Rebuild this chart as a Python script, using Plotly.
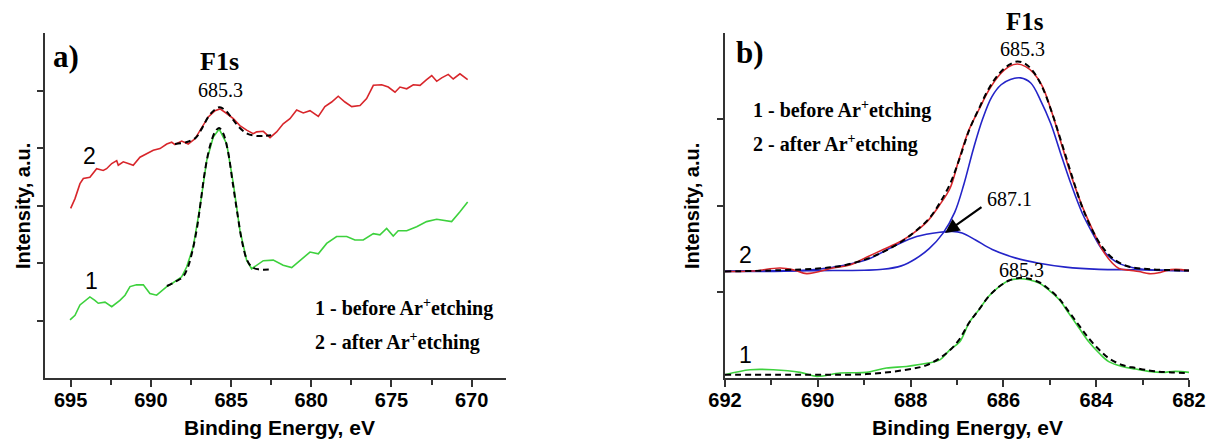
import plotly.graph_objects as go

W, H = 1209, 439

# ---------------- Panel a) data ----------------
a_red_x = [695.0, 694.73, 694.42, 694.21, 693.80, 693.38, 692.97, 692.76, 692.44, 692.13, 692.03,
           691.72, 691.41, 691.10, 690.68, 690.26, 689.85, 689.43, 689.01, 688.70, 688.50, 688.08,
           687.67, 687.25, 686.83, 686.42, 686.00, 685.69, 685.27, 684.86, 684.45, 684.03, 683.62,
           683.40, 682.99, 682.57, 682.16, 681.75, 681.33, 680.91, 680.50, 680.08, 679.56, 679.15,
           678.73, 678.32, 677.90, 677.48, 676.96, 676.55, 676.13, 675.61, 675.20, 674.78, 674.47,
           674.05, 673.64, 673.22, 672.81, 672.49, 672.18, 671.87, 671.46, 671.15, 670.73, 670.52,
           670.25]
a_red_y = [2.95, 3.12, 3.38, 3.47, 3.49, 3.64, 3.61, 3.64, 3.73, 3.78, 3.70,
           3.76, 3.73, 3.70, 3.84, 3.90, 3.96, 3.99, 4.07, 4.10, 4.06, 4.12,
           4.07, 4.16, 4.36, 4.54, 4.65, 4.68, 4.60, 4.51, 4.39, 4.31, 4.25,
           4.28, 4.29, 4.18, 4.28, 4.42, 4.51, 4.66, 4.61, 4.65, 4.55, 4.72,
           4.80, 4.90, 4.80, 4.72, 4.74, 4.86, 5.09, 5.10, 5.06, 4.97, 5.06,
           5.03, 5.10, 5.09, 5.19, 5.26, 5.16, 5.22, 5.28, 5.20, 5.29, 5.24,
           5.19]

a_green_x = [695.04, 694.73, 694.42, 694.05, 693.80, 693.49, 693.28, 692.86, 692.44, 691.93, 691.61,
             691.30, 690.89, 690.47, 690.06, 689.64, 689.23, 689.01, 688.70, 688.39, 688.08, 687.77,
             687.36, 686.94, 686.52, 686.11, 685.74, 685.27, 684.86, 684.45, 684.03, 683.72, 683.40,
             682.99, 682.37, 681.75, 681.22, 680.70, 680.08, 679.56, 679.04, 678.42, 677.79, 677.28,
             676.76, 676.13, 675.72, 675.30, 674.89, 674.58, 674.05, 673.43, 672.81, 672.18, 671.77,
             671.25, 670.73, 670.25]
a_green_y = [1.01, 1.09, 1.27, 1.35, 1.41, 1.35, 1.30, 1.32, 1.24, 1.35, 1.44,
             1.59, 1.62, 1.62, 1.47, 1.44, 1.53, 1.59, 1.64, 1.70, 1.76, 1.93,
             2.28, 2.97, 3.78, 4.19, 4.33, 4.07, 3.38, 2.57, 2.05, 1.90, 1.96,
             2.04, 2.05, 1.96, 1.92, 2.05, 2.19, 2.16, 2.34, 2.46, 2.46, 2.40,
             2.40, 2.51, 2.49, 2.60, 2.47, 2.56, 2.56, 2.63, 2.72, 2.76, 2.74,
             2.72, 2.89, 3.06]

a_fit2_x = [688.5, 687.8, 687.2, 686.8, 686.4, 686.0, 685.7, 685.3, 684.9, 684.5, 684.0, 683.4, 682.5]
a_fit2_y = [4.07, 4.10, 4.18, 4.35, 4.55, 4.67, 4.71, 4.64, 4.50, 4.36, 4.25, 4.21, 4.22]

a_fit1_x = [689.0, 688.5, 688.0, 687.7, 687.4, 687.1, 686.9, 686.6, 686.3, 686.0, 685.75, 685.5,
            685.2, 684.9, 684.6, 684.3, 684.0, 683.7, 683.3, 682.4]
a_fit1_y = [1.60, 1.67, 1.76, 1.92, 2.22, 2.65, 3.05, 3.65, 4.05, 4.28, 4.35, 4.26,
            3.95, 3.40, 2.85, 2.35, 2.05, 1.93, 1.89, 1.89]

# ---------------- Panel b) data ----------------
b_red_x = [692.0, 691.4, 690.81, 690.5, 690.24, 689.67, 689.31, 688.95, 688.59, 688.23, 687.94, 687.65,
           687.37, 687.15, 686.96, 686.74, 686.53, 686.31, 686.09, 685.88, 685.70, 685.52, 685.34,
           685.16, 684.95, 684.73, 684.51, 684.30, 684.08, 683.87, 683.65, 683.51, 683.29, 683.08,
           682.86, 682.65, 682.50, 682.29, 682.0]
b_red_y = [1.235, 1.24, 1.275, 1.25, 1.21, 1.275, 1.31, 1.40, 1.49, 1.58, 1.68, 1.81,
           2.01, 2.20, 2.53, 2.88, 3.11, 3.34, 3.51, 3.61, 3.64, 3.61, 3.53,
           3.38, 3.07, 2.68, 2.30, 1.99, 1.72, 1.49, 1.33, 1.27, 1.25, 1.235,
           1.21, 1.22, 1.245, 1.26, 1.245]

b_blue1_x = [692.0, 690.0, 689.0, 688.6, 688.2, 687.9, 687.6, 687.3, 687.05, 686.85, 686.65,
             686.45, 686.25, 686.05, 685.85, 685.63, 685.41, 685.20, 684.98, 684.77, 684.55,
             684.30, 684.08, 683.87, 683.58, 683.29, 682.86, 682.0]
b_blue1_y = [1.24, 1.245, 1.25, 1.26, 1.30, 1.38, 1.50, 1.68, 1.92, 2.25, 2.65,
             3.00, 3.26, 3.40, 3.46, 3.48, 3.42, 3.22, 2.95, 2.61, 2.26,
             1.91, 1.68, 1.49, 1.35, 1.29, 1.255, 1.245]

b_blue2_x = [692.0, 690.38, 689.67, 688.95, 688.37, 687.87, 687.37, 687.1, 686.89, 686.60, 686.24,
             685.73, 685.23, 684.66, 683.94, 683.22, 682.0]
b_blue2_y = [1.235, 1.245, 1.285, 1.37, 1.525, 1.64, 1.69, 1.70, 1.68, 1.60, 1.49,
             1.39, 1.33, 1.285, 1.26, 1.255, 1.245]

b_fit2_x = [692.0, 690.8, 690.0, 689.5, 689.0, 688.6, 688.2, 687.9, 687.6, 687.37, 687.15, 686.96,
            686.74, 686.53, 686.31, 686.09, 685.88, 685.70, 685.52, 685.34, 685.16, 684.95, 684.73,
            684.51, 684.30, 684.08, 683.87, 683.65, 683.44, 683.2, 682.8, 682.0]
b_fit2_y = [1.235, 1.25, 1.27, 1.30, 1.37, 1.46, 1.58, 1.70, 1.85, 2.03, 2.25, 2.52,
            2.87, 3.12, 3.36, 3.53, 3.63, 3.67, 3.64, 3.54, 3.37, 3.07, 2.70,
            2.32, 1.98, 1.71, 1.52, 1.39, 1.32, 1.28, 1.26, 1.245]

b_green_x = [692.0, 691.46, 690.96, 690.38, 690.02, 689.52, 688.95, 688.52, 688.09, 687.65, 687.37,
             687.15, 686.94, 686.74, 686.53, 686.31, 686.09, 685.88, 685.66, 685.45, 685.23, 685.02,
             684.80, 684.59, 684.37, 684.16, 683.94, 683.73, 683.44, 683.15, 682.86, 682.58, 682.29,
             682.0]
b_green_y = [0.038, 0.096, 0.096, 0.065, 0.019, 0.058, 0.065, 0.116, 0.134, 0.17, 0.21,
             0.33, 0.42, 0.64, 0.79, 0.95, 1.06, 1.13, 1.15, 1.14, 1.10, 1.02,
             0.91, 0.75, 0.58, 0.42, 0.29, 0.19, 0.134, 0.104, 0.077, 0.065, 0.077,
             0.065]

b_fit1_x = [692.0, 690.0, 688.95, 688.09, 687.65, 687.22, 686.96, 686.74, 686.53, 686.31, 686.09,
            685.88, 685.66, 685.45, 685.23, 685.02, 684.80, 684.59, 684.37, 684.16, 683.94, 683.73,
            683.44, 683.15, 682.72, 682.0]
b_fit1_y = [0.038, 0.038, 0.045, 0.096, 0.15, 0.29, 0.44, 0.64, 0.79, 0.95, 1.06,
            1.13, 1.16, 1.15, 1.11, 1.03, 0.92, 0.77, 0.61, 0.46, 0.33, 0.23,
            0.15, 0.116, 0.077, 0.058]

a_xticks = [695, 690, 685, 680, 675, 670]
b_xticks = [692, 690, 688, 686, 684, 682]

# ---------------- colours / styles ----------------
RED = "#d8262b"
GREEN = "#3dd13d"
BLUE = "#2424c8"
AX = "#333333"
SERIF = "Liberation Serif"
SANS = "Liberation Sans"

fig = go.Figure()

def line(x, y, color, xa, ya, dash=None, width=1.6, shape="linear"):
    fig.add_trace(go.Scatter(x=x, y=y, mode="lines", xaxis=xa, yaxis=ya,
                             line=dict(color=color, width=width, dash=dash, shape=shape),
                             hoverinfo="skip", showlegend=False))

# panel a
line(a_red_x, a_red_y, RED, "x", "y")
line(a_green_x, a_green_y, GREEN, "x", "y")
line(a_fit2_x, a_fit2_y, "black", "x", "y", dash="6px,4px", width=2, shape="spline")
line(a_fit1_x, a_fit1_y, "black", "x", "y", dash="6px,4px", width=2, shape="spline")

# panel b
line(b_blue2_x, b_blue2_y, BLUE, "x2", "y2", shape="spline")
line(b_blue1_x, b_blue1_y, BLUE, "x2", "y2", shape="spline")
line(b_red_x, b_red_y, RED, "x2", "y2", shape="spline")
line(b_fit2_x, b_fit2_y, "black", "x2", "y2", dash="6px,4px", width=2, shape="spline")
line(b_green_x, b_green_y, GREEN, "x2", "y2", shape="spline")
line(b_fit1_x, b_fit1_y, "black", "x2", "y2", dash="6px,4px", width=2, shape="spline")

ydom = [1 - 378 / H, 1 - 33 / H]
tickfont = dict(family=SANS, size=20, color="black", weight="bold")

common_x = dict(showline=True, linecolor=AX, linewidth=2, ticks="outside", ticklen=7,
                tickwidth=2, tickcolor=AX, showgrid=False, zeroline=False,
                tickfont=tickfont, tickmode="array", automargin=False, ticklabelstandoff=-4,
                minor=dict(ticks="outside", ticklen=5, tickwidth=2, tickcolor=AX, showgrid=False))
common_y = dict(showline=True, linecolor=AX, linewidth=2, ticks="outside", ticklen=6,
                tickwidth=2, tickcolor=AX, showgrid=False, zeroline=False, automargin=False,
                showticklabels=False, tickmode="array")

fig.update_layout(
    width=W, height=H, autosize=False, margin=dict(l=0, r=0, t=0, b=0, pad=0),
    paper_bgcolor="white", plot_bgcolor="white", showlegend=False,
    xaxis=dict(common_x, domain=[45 / W, 506 / W], range=[696.6, 667.86],
               tickvals=a_xticks, anchor="y",
               minor=dict(common_x["minor"], tickvals=[692.5, 687.5, 682.5, 677.5, 672.5])),
    yaxis=dict(common_y, domain=ydom, range=[0, 6], tickvals=[1, 2, 3, 4, 5], anchor="x"),
    xaxis2=dict(common_x, domain=[725 / W, 1189 / W], range=[692, 682],
                tickvals=b_xticks, anchor="y2",
                minor=dict(common_x["minor"], tickvals=[691, 689, 687, 685, 683])),
    yaxis2=dict(common_y, domain=ydom, range=[0, 4], tickvals=[1, 2, 3], anchor="x2"),
)

def txt(s, px, py, size, family=SERIF, bold=False, xanchor="center", angle=0, color="black"):
    fig.add_annotation(text=s, x=px / W, y=1 - py / H, xref="paper", yref="paper",
                       showarrow=False, xanchor=xanchor, yanchor="middle", textangle=angle,
                       font=dict(family=family, size=size, color=color,
                                 weight="bold" if bold else "normal"))

# panel labels
txt("a)", 66, 57, 31, bold=True)
txt("b)", 750, 53, 31, bold=True)
txt("F1s", 219, 62, 26, bold=True)
txt("685.3", 220, 90, 20)
txt("F1s", 1025, 22, 25, bold=True)
txt("685.3", 1022, 49, 20)
txt("685.3", 1021, 270, 20)
txt("687.1", 1009, 199, 20)

# curve numbers
txt("2", 89, 156, 23, family=SANS)
txt("1", 91, 281, 23, family=SANS)
txt("2", 745, 255, 23, family=SANS)
txt("1", 745, 355, 23, family=SANS)

# legends
for (lx, ly1, ly2) in [(313, 307, 341), (751, 110, 143)]:
    txt("1 - before Ar<sup>+</sup>etching", lx, ly1, 20, bold=True, xanchor="left")
    txt("2 - after Ar<sup>+</sup>etching", lx, ly2, 20, bold=True, xanchor="left")

# axis titles
txt("Binding Energy, eV", 279, 427, 21, family=SANS, bold=True)
txt("Binding Energy, eV", 967, 427, 21, family=SANS, bold=True)
txt("Intensity, a.u.", 23, 206, 20, family=SANS, bold=True, angle=-90)
txt("Intensity, a.u.", 692, 206, 20, family=SANS, bold=True, angle=-90)

# arrow to 687.1 component
fig.add_annotation(x=945 / W, y=1 - 233 / H, xref="paper", yref="paper",
                   ax=983 - 945, ay=206 - 233, axref="pixel", ayref="pixel",
                   showarrow=True, arrowhead=2, arrowsize=1.3, arrowwidth=2.2,
                   arrowcolor="black", text="")

fig.write_html("out.html", config={"responsive": False, "displayModeBar": False},
               post_script="document.body.style.margin='0';document.body.style.padding='0';"
                           "document.body.style.overflow='hidden';"
                           "document.documentElement.style.overflow='hidden';")
